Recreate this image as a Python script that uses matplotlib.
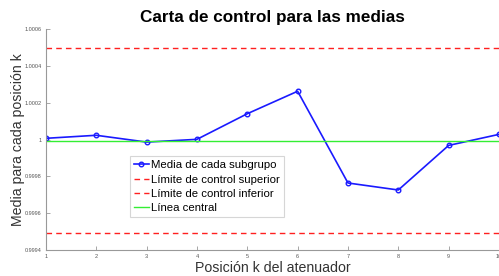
import numpy as np
import matplotlib.pyplot as plt

plt.rcParams['font.family'] = ['Liberation Sans', 'DejaVu Sans']

# datos
posiciones = [1, 2, 3, 4, 5, 6, 7, 8, 9, 10]
medias = [1.0000065, 1.000023, 0.999986, 1.000001, 1.00014,
          1.000262, 0.999764, 0.999726, 0.999968, 1.000028]
lim_sup = 1.000497
lim_inf = 0.999492
linea_central = 0.99999

yticks = [0.9994, 0.9996, 0.9998, 1.0, 1.0002, 1.0004, 1.0006]
ytick_labels = ['0.9994', '0.9996', '0.9998', '1', '1.0002', '1.0004', '1.0006']

fig = plt.figure(figsize=(4.99, 2.76), dpi=100)
ax = fig.add_axes([0.092, 0.094, 0.908, 0.801])

ax.plot(posiciones, medias, color='#1a1aff', lw=1.2, marker='o', ms=3.3,
        mfc='none', mew=1.0, label='Media de cada subgrupo')
ax.axhline(lim_sup, color='#ff2020', ls=(0, (4, 3)), lw=1.0,
           label='Límite de control superior')
ax.axhline(lim_inf, color='#ff2020', ls=(0, (4, 3)), lw=1.0,
           label='Límite de control inferior')
ax.axhline(linea_central, color='#33ee33', lw=1.0, label='Línea central')

ax.set_xlim(1, 10)
ax.set_ylim(0.9994, 1.0006)
ax.set_xticks(posiciones)
ax.set_xticklabels([str(p) for p in posiciones])
ax.set_yticks(yticks)
ax.set_yticklabels(ytick_labels)

for s in ['top', 'right']:
    ax.spines[s].set_visible(False)
for s in ['left', 'bottom']:
    ax.spines[s].set_color('#999999')
    ax.spines[s].set_linewidth(0.8)
ax.tick_params(direction='in', length=3, width=0.6, colors='#999999',
               labelsize=4, labelcolor='#555555', pad=3)

ax.set_title('Carta de control para las medias', fontsize=12.3,
             fontweight='bold', pad=5)
ax.set_xlabel('Posición k del atenuador', fontsize=10.2, color='#333333', labelpad=1)
ax.set_ylabel('Media para cada posición k', fontsize=10.2, color='#333333', labelpad=-0.5)

leg = ax.legend(loc='lower left', bbox_to_anchor=(0.185, 0.148), fontsize=8.2,
                frameon=True, fancybox=False, edgecolor='#cccccc',
                handlelength=1.3, handletextpad=0.2, borderpad=0.35,
                labelspacing=0.38, borderaxespad=0)
leg.get_frame().set_linewidth(0.8)

fig.savefig('out.png', dpi=100)
